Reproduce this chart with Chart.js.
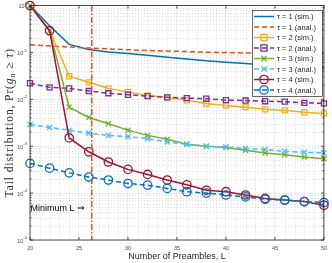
<!DOCTYPE html>
<html><head><meta charset="utf-8">
<script src="https://cdn.jsdelivr.net/npm/chart.js@4"></script>
<style>html,body{margin:0;padding:0;background:#fff;overflow:hidden}</style>
</head><body>
<canvas id="c" width="332" height="263"></canvas>
<script>
// ---- data ----
const preambles = [20,22,24,26,28,30,32,34,36,38,40,42,44,46,48,50];
const tau1Sim  = [1, 0.37, 0.148, 0.115, 0.102, 0.095, 0.087, 0.079, 0.072, 0.066, 0.062, 0.058, 0.054, 0.051, 0.048, 0.046];
const tau1Anal = [0.146, 0.138, 0.130, 0.124, 0.119, 0.114, 0.110, 0.107, 0.104, 0.101, 0.099, 0.097, 0.096, 0.095, 0.094, 0.093];
const tau2Sim  = [1, 0.29, 0.031, 0.023, 0.017, 0.0144, 0.012, 0.011, 0.0095, 0.0081, 0.0074, 0.0068, 0.0061, 0.0058, 0.0053, 0.0050];
const tau2Anal = [0.022, 0.018, 0.017, 0.015, 0.0135, 0.0125, 0.0117, 0.011, 0.0106, 0.0103, 0.0096, 0.0094, 0.0091, 0.0089, 0.0084, 0.0082];
const tau3Sim  = [1, 0.29, 0.0068, 0.0041, 0.0030, 0.0022, 0.0017, 0.0014, 0.0011, 0.0010, 0.00094, 0.00082, 0.00072, 0.00066, 0.00059, 0.00054];
const tau3Anal = [0.0029, 0.0025, 0.0022, 0.0019, 0.0017, 0.0016, 0.00145, 0.00123, 0.0011, 0.0010, 0.00096, 0.00089, 0.00085, 0.00078, 0.00074, 0.00072];
const tau4Sim  = [1, 0.29, 0.0015, 0.00076, 0.00046, 0.00032, 0.00025, 0.00019, 0.00015, 0.000115, 0.000107, 0.000091, 0.000077, 0.000071, 0.000066, 0.000055];
const tau4Anal = [0.00043, 0.00034, 0.00027, 0.00022, 0.00019, 0.00016, 0.000148, 0.000126, 0.000107, 0.000100, 0.000091, 0.000083, 0.000074, 0.000071, 0.000066, 0.000063];
const seriesNames = ['τ = 1 (sim.)','τ = 1 (anal.)','τ = 2 (sim.)','τ = 2 (anal.)','τ = 3 (sim.)','τ = 3 (anal.)','τ = 4 (sim.)','τ = 4 (anal.)'];
const xTickValues = [20,25,30,35,40,45,50];
const yTickExponents = [-5,-4,-3,-2,-1,0];
const minimumL = 26.3;
const minimumLText = 'Minimum L ⇒';
const minimumLTextAt = {x: 20.05, y: 4.8e-5};
const xTitle = 'Number of Preambles, L';

// ---- styles ----
const colors = ['#0072BD','#D95319','#EDB120','#7E2F8E','#77AC30','#4DBEEE','#A2142F','#0072BD'];
const styles = [
  {data: tau1Sim,  dash: [],    marker: false},
  {data: tau1Anal, dash: [5,3], marker: false},
  {data: tau2Sim,  dash: [],    marker: 'rect'},
  {data: tau2Anal, dash: [5,3], marker: 'rect'},
  {data: tau3Sim,  dash: [],    marker: 'crossRot'},
  {data: tau3Anal, dash: [5,3], marker: 'crossRot'},
  {data: tau4Sim,  dash: [],    marker: 'circle'},
  {data: tau4Anal, dash: [5,3], marker: 'circle'}
];
const markerRadius = {rect: 3.6, crossRot: 3.6, circle: 4.2};

const datasets = styles.map((s, i) => ({
  label: seriesNames[i],
  data: preambles.map((x, k) => ({x, y: s.data[k]})),
  borderColor: colors[i],
  backgroundColor: colors[i],
  borderWidth: 1.5,
  borderDash: s.dash,
  pointStyle: s.marker || 'circle',
  pointRadius: s.marker ? (ctx => (i === 2 && ctx.dataIndex < 2) ? 0 : markerRadius[s.marker]) : 0,
  pointBorderWidth: 1.3,
  pointBorderColor: colors[i],
  pointBackgroundColor: 'rgba(0,0,0,0)',
  pointHoverRadius: 0,
  tension: 0,
  clip: false,
  order: 7 - i
}));

const AX = '#262626';
const SANS = '"Liberation Sans", Arial, "DejaVu Sans", sans-serif';
const SERIF = '"Liberation Serif", "Times New Roman", "DejaVu Serif", serif';

function drawMarker(ctx, style, x, y, r, color) {
  ctx.save();
  ctx.strokeStyle = color; ctx.lineWidth = 1.3; ctx.setLineDash([]);
  ctx.beginPath();
  if (style === 'rect') { ctx.rect(x - r*0.85, y - r*0.85, r*1.7, r*1.7); }
  else if (style === 'circle') { ctx.arc(x, y, r, 0, Math.PI*2); }
  else if (style === 'crossRot') { const d = r*0.75; ctx.moveTo(x-d,y-d); ctx.lineTo(x+d,y+d); ctx.moveTo(x+d,y-d); ctx.lineTo(x-d,y+d); }
  ctx.stroke();
  ctx.restore();
}

const decor = {
  id: 'decor',
  beforeDatasetsDraw(chart) {
    const {ctx, chartArea: a, scales: {x, y}} = chart;
    ctx.save();
    ctx.strokeStyle = '#cfcfcf'; ctx.lineWidth = 0.7; ctx.setLineDash([1, 2]);
    for (let v = 21; v < 50; v++) {
      if (v % 5 === 0) continue;
      const px = Math.round(x.getPixelForValue(v)) + 0.5;
      ctx.beginPath(); ctx.moveTo(px, a.top); ctx.lineTo(px, a.bottom); ctx.stroke();
    }
    for (let e = -5; e < 0; e++) {
      for (let m = 2; m <= 9; m++) {
        const py = Math.round(y.getPixelForValue(m * Math.pow(10, e))) + 0.5;
        ctx.beginPath(); ctx.moveTo(a.left, py); ctx.lineTo(a.right, py); ctx.stroke();
      }
    }
    ctx.restore();
  },
  afterDatasetsDraw(chart) {
    const {ctx, chartArea: a, scales: {x, y}} = chart;
    ctx.save();
    // minimum L vertical line
    const mx = x.getPixelForValue(minimumL);
    ctx.strokeStyle = '#D95319'; ctx.lineWidth = 1.5; ctx.setLineDash([6, 2, 1.5, 2]);
    ctx.beginPath(); ctx.moveTo(mx, a.top); ctx.lineTo(mx, a.bottom); ctx.stroke();
    ctx.setLineDash([]);
    // box + ticks
    ctx.strokeStyle = AX; ctx.lineWidth = 0.8;
    ctx.strokeRect(a.left, a.top, a.right - a.left, a.bottom - a.top);
    ctx.beginPath();
    xTickValues.forEach(v => {
      const px = x.getPixelForValue(v);
      ctx.moveTo(px, a.bottom); ctx.lineTo(px, a.bottom - 3);
      ctx.moveTo(px, a.top); ctx.lineTo(px, a.top + 3);
    });
    yTickExponents.forEach(e => {
      const py = y.getPixelForValue(Math.pow(10, e));
      ctx.moveTo(a.left, py); ctx.lineTo(a.left + 3, py);
      ctx.moveTo(a.right, py); ctx.lineTo(a.right - 3, py);
      if (e < 0) for (let m = 2; m <= 9; m++) {
        const q = y.getPixelForValue(m * Math.pow(10, e));
        ctx.moveTo(a.left, q); ctx.lineTo(a.left + 1.5, q);
        ctx.moveTo(a.right, q); ctx.lineTo(a.right - 1.5, q);
      }
    });
    ctx.stroke();
    // y tick labels 10^e
    ctx.fillStyle = '#4a4a4a'; ctx.textBaseline = 'middle'; ctx.textAlign = 'left';
    yTickExponents.forEach(e => {
      const py = y.getPixelForValue(Math.pow(10, e));
      const base = '10', exp = String(e);
      ctx.font = '5.5px ' + SANS; const wb = ctx.measureText(base).width;
      ctx.font = '4.2px ' + SANS; const we = ctx.measureText(exp).width;
      const x0 = a.left - 3 - wb - we;
      ctx.font = '5.5px ' + SANS; ctx.fillText(base, x0, py + 1);
      ctx.font = '4.2px ' + SANS; ctx.fillText(exp, x0 + wb, py - 2);
    });
    // y title (rotated)
    const parts = [
      {t: 'Tail distribution, Pr(', f: '11.5px ' + SERIF, dy: 0},
      {t: 'g', f: 'italic 11.5px ' + SERIF, dy: 0},
      {t: 'n', f: 'italic 8px ' + SERIF, dy: 2.5},
      {t: ' ≥ ', f: '11.5px ' + SERIF, dy: 0},
      {t: 'τ', f: 'italic 11.5px ' + SERIF, dy: 0},
      {t: ')', f: '11.5px ' + SERIF, dy: 0}
    ];
    const ls = 0.9;
    ctx.save();
    ctx.letterSpacing = ls + 'px';
    let total = 0;
    parts.forEach(p => { ctx.font = p.f; p.w = ctx.measureText(p.t).width; total += p.w; });
    ctx.translate(10, (a.top + a.bottom) / 2);
    ctx.rotate(-Math.PI / 2);
    ctx.fillStyle = AX; ctx.textBaseline = 'middle'; ctx.textAlign = 'left';
    let cx = -total / 2;
    parts.forEach(p => { ctx.font = p.f; ctx.fillText(p.t, cx, p.dy); cx += p.w; });
    ctx.restore();
    // annotation text
    ctx.fillStyle = '#000'; ctx.font = '9px ' + SANS; ctx.textBaseline = 'middle'; ctx.textAlign = 'left';
    ctx.fillText(minimumLText, x.getPixelForValue(minimumLTextAt.x), y.getPixelForValue(minimumLTextAt.y));
    // legend
    const lx = 252, ly = 10, lw = 70, rowH = 10.5, lh = rowH * 8 + 2;
    ctx.fillStyle = '#fff'; ctx.fillRect(lx, ly, lw, lh);
    ctx.strokeStyle = AX; ctx.lineWidth = 0.7; ctx.strokeRect(lx + 0.5, ly + 0.5, lw, lh);
    chart.data.datasets.forEach((ds, i) => {
      const cy = ly + 6.5 + i * rowH;
      ctx.save();
      ctx.strokeStyle = ds.borderColor; ctx.lineWidth = 1.5; ctx.setLineDash(styles[i].dash);
      ctx.beginPath(); ctx.moveTo(254, cy); ctx.lineTo(274, cy); ctx.stroke();
      ctx.restore();
      if (styles[i].marker) drawMarker(ctx, styles[i].marker, 264, cy, markerRadius[styles[i].marker], ds.borderColor);
      ctx.fillStyle = AX; ctx.font = '7.5px ' + SANS; ctx.textBaseline = 'middle'; ctx.textAlign = 'left';
      ctx.fillText(ds.label, 277, cy + 0.5);
    });
    ctx.restore();
  }
};

new Chart(document.getElementById('c'), {
  type: 'line',
  data: {datasets},
  options: {
    responsive: false, animation: false, devicePixelRatio: 1,
    layout: {padding: {left: 0, top: 5, right: 6, bottom: 0}},
    plugins: {legend: {display: false}, tooltip: {enabled: false}},
    events: [],
    scales: {
      x: {
        type: 'linear', min: 20, max: 50,
        afterBuildTicks: s => { s.ticks = xTickValues.map(v => ({value: v})); },
        afterFit: s => { s.height = 23; },
        grid: {color: '#e4e4e4', lineWidth: 0.7, drawTicks: false},
        border: {display: false},
        ticks: {color: '#4a4a4a', font: {size: 5.5, family: SANS}, padding: 5, maxRotation: 0, autoSkip: false},
        title: {display: true, text: xTitle, color: AX, font: {size: 9, family: SANS}, padding: {top: 0, bottom: 1}}
      },
      y: {
        type: 'logarithmic', min: 1e-5, max: 1,
        afterBuildTicks: s => { s.ticks = yTickExponents.map(e => ({value: Math.pow(10, e), major: true})); },
        afterFit: s => { s.width = 30; },
        grid: {color: '#e4e4e4', lineWidth: 0.7, drawTicks: false},
        border: {display: false},
        ticks: {display: false}
      }
    }
  },
  plugins: [decor]
});
</script>
</body></html>
